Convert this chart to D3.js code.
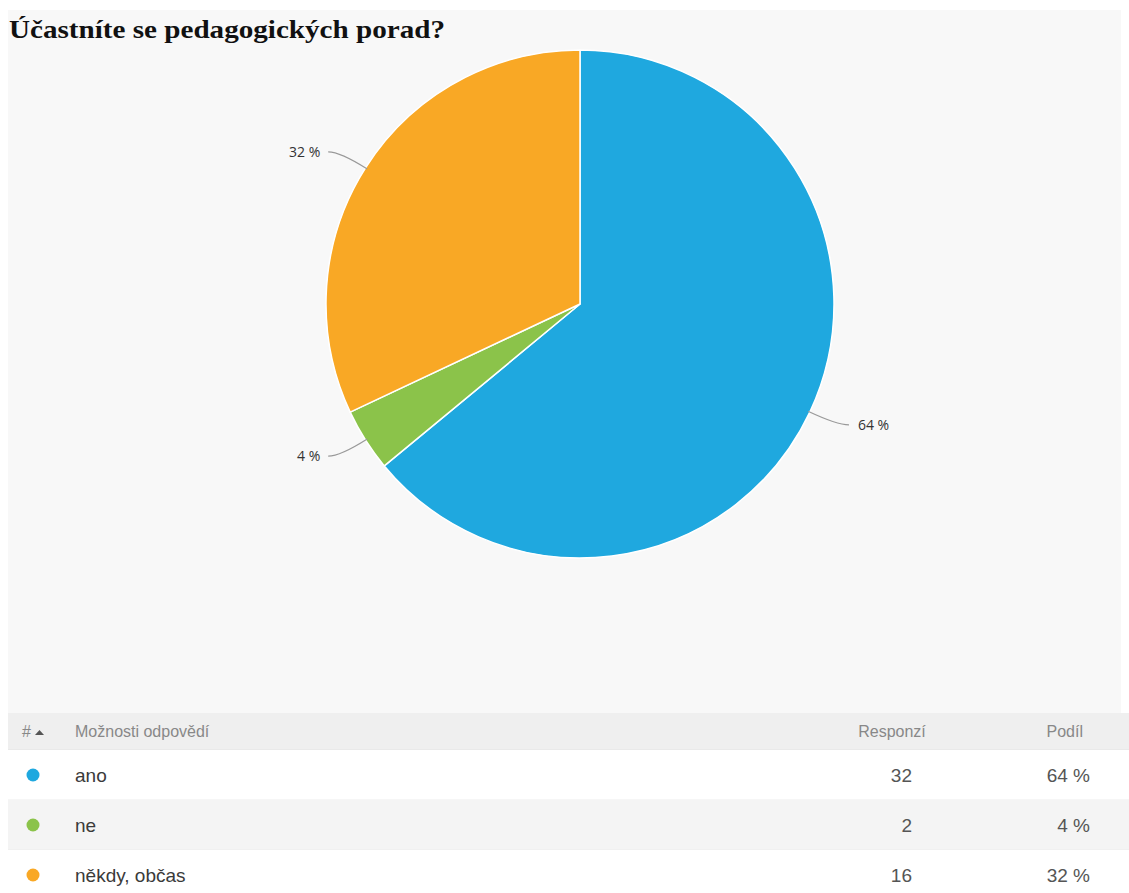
<!DOCTYPE html>
<html>
<head>
<meta charset="utf-8">
<script src="https://cdn.jsdelivr.net/npm/d3@7"></script>
<style>
  html, body { margin: 0; padding: 0; background: #ffffff; }
  svg { display: block; }
</style>
</head>
<body>
<svg id="chart" width="1129" height="893"></svg>
<script>
// Survey answers
const categories = ["ano", "ne", "někdy, občas"];
const responses = [32, 2, 16];
const shares = [64, 4, 32];
const colors = ["#1fa8df", "#8bc34a", "#f9a825"];
const title = "Účastníte se pedagogických porad?";
const headers = ["#", "Možnosti odpovědí", "Responzí", "Podíl"];

const svg = d3.select("#chart");
const W = 1129, H = 893;

// grey panel behind chart and table
svg.append("rect").attr("x", 8).attr("y", 10).attr("width", W - 16).attr("height", H - 10)
  .attr("fill", "#f8f8f8");

svg.append("text").attr("x", 9).attr("y", 38)
  .attr("font-family", "'Liberation Serif', 'Times New Roman', serif")
  .attr("font-weight", "bold").attr("font-size", 26).attr("fill", "#111")
  .attr("textLength", 436).attr("lengthAdjust", "spacingAndGlyphs")
  .text(title);

// pie
const cx = 580, cy = 304, r = 254;
const data = categories.map((c, i) => ({ name: c, value: responses[i], share: shares[i], color: colors[i] }));
const pie = d3.pie().value(d => d.value).sort(null);
const arc = d3.arc().innerRadius(0).outerRadius(r);
const arcs = pie(data);
const g = svg.append("g").attr("transform", `translate(${cx},${cy})`);
g.selectAll("path").data(arcs).join("path")
  .attr("d", arc).attr("fill", d => d.data.color)
  .attr("stroke", "#ffffff").attr("stroke-width", 1.5).attr("stroke-linejoin", "round");

// labels with connector lines
arcs.forEach(a => {
  const mid = (a.startAngle + a.endAngle) / 2;
  const right = Math.sin(mid) > 0;
  const px = Math.sin(mid) * (r - 2), py = -Math.cos(mid) * (r - 2);
  const ex = Math.sin(mid) * (r + 30), ey = -Math.cos(mid) * (r + 30);
  const lx = ex + (right ? 12 : -12);
  const ly = ey;
  g.append("path")
    .attr("d", `M${px},${py} Q${ex},${ly} ${lx},${ly}`)
    .attr("fill", "none").attr("stroke", "#999").attr("stroke-width", 1.2);
  g.append("text").attr("x", lx + (right ? 9 : -8)).attr("y", ly + 5)
    .attr("text-anchor", right ? "start" : "end")
    .attr("font-family", "'Open Sans', 'DejaVu Sans', sans-serif").attr("font-size", 14)
    .attr("fill", "#333").text(a.data.share + " %");
});

// table
const tableTop = 713, headerH = 37, rowH = 50;
const font = "'Liberation Sans', Arial, sans-serif";
svg.append("rect").attr("x", 8).attr("y", tableTop).attr("width", W - 8).attr("height", headerH)
  .attr("fill", "#efefef");
svg.append("line").attr("x1", 8).attr("x2", W).attr("y1", tableTop + headerH).attr("y2", tableTop + headerH)
  .attr("stroke", "#e2e2e2");
const hy = tableTop + 24;
const hdr = svg.append("g").attr("font-family", font).attr("font-size", 16).attr("fill", "#888");
hdr.append("text").attr("x", 22).attr("y", hy).text(headers[0]);
hdr.append("path").attr("d", "M35,735 L39.5,730 L44,735 Z").attr("fill", "#555");
hdr.append("text").attr("x", 75).attr("y", hy).text(headers[1]);
hdr.append("text").attr("x", 892).attr("y", hy).attr("text-anchor", "middle").text(headers[2]);
hdr.append("text").attr("x", 1083).attr("y", hy).attr("text-anchor", "end").text(headers[3]);

const y = d3.scaleBand().domain(categories).range([tableTop + headerH, tableTop + headerH + rowH * categories.length]);
const rows = svg.append("g").selectAll("g").data(data).join("g")
  .attr("transform", d => `translate(0,${y(d.name)})`);
rows.append("rect").attr("x", 8).attr("width", W - 8).attr("height", y.bandwidth())
  .attr("fill", (d, i) => i % 2 ? "#f4f4f4" : "#ffffff");
rows.append("line").attr("x1", 8).attr("x2", W).attr("y1", y.bandwidth()).attr("y2", y.bandwidth())
  .attr("stroke", "#ececec");
rows.append("circle").attr("cx", 33).attr("cy", 25).attr("r", 6.5).attr("fill", d => d.color);
rows.append("text").attr("x", 75).attr("y", 32).attr("font-family", font).attr("font-size", 19)
  .attr("fill", "#3a3a3a").text(d => d.name);
rows.append("text").attr("x", 912).attr("y", 32).attr("text-anchor", "end").attr("font-family", font)
  .attr("font-size", 19).attr("fill", "#555").text(d => d.value);
rows.append("text").attr("x", 1090).attr("y", 32).attr("text-anchor", "end").attr("font-family", font)
  .attr("font-size", 19).attr("fill", "#555").text(d => d.share + " %");
</script>
</body>
</html>
